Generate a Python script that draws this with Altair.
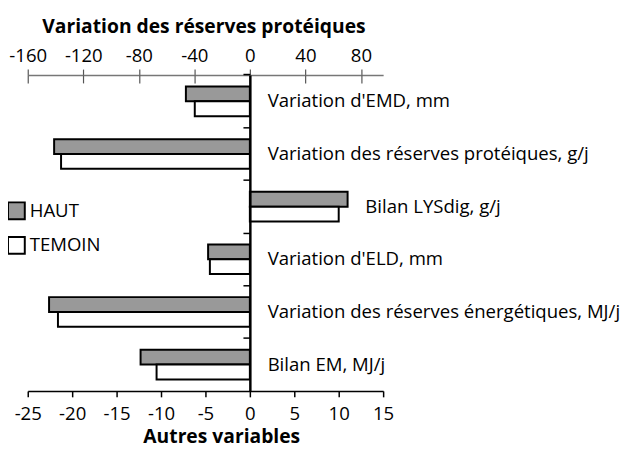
import altair as alt
import pandas as pd

categories = [
    "Variation d'EMD, mm",
    "Variation des réserves protéiques, g/j",
    "Bilan LYSdig, g/j",
    "Variation d'ELD, mm",
    "Variation des réserves énergétiques, MJ/j",
    "Bilan EM, MJ/j",
]
series = ["HAUT", "TEMOIN"]
haut = [-7.2, -141.0, 11.0, -4.7, -22.6, -12.3]
temoin = [-6.2, -136.0, 10.0, -4.5, -21.6, -10.5]
top_ticks = [-160, -120, -80, -40, 0, 40, 80]
bottom_ticks = [-25, -20, -15, -10, -5, 0, 5, 10, 15]
protein_cat = "Variation des réserves protéiques, g/j"

rows = []
for c, h, t in zip(categories, haut, temoin):
    rows.append({"cat": c, "serie": "HAUT", "value": h})
    rows.append({"cat": c, "serie": "TEMOIN", "value": t})
df = pd.DataFrame(rows)
df_prot = df[df["cat"] == protein_cat]
df_other = df[df["cat"] != protein_cat]

lab = pd.DataFrame({
    "cat": categories,
    "pos": [0 if c == protein_cat else max(0, h, t) for c, h, t in zip(categories, haut, temoin)],
})

FONT = "Open Sans"
FS = 18.8
TFS = 19.5
HYPHEN = "replace(datum.label, '\u2212', '-')"

PI = 0.4375
yscale = alt.Scale(domain=categories, paddingInner=PI, paddingOuter=PI / 2)
yaxis = alt.Axis(
    orient="left", offset=-225, labels=False, title=None, domain=True,
    domainColor="black", domainWidth=2.5, ticks=True,
    bandPosition=-PI / (2 * (1 - PI)),
    tickSize=7, tickColor="black", tickWidth=1.5, grid=False, zindex=1,
)
Y = alt.Y("cat:N", sort=categories, scale=yscale, axis=yaxis)
YO = alt.YOffset("serie:N", sort=series, scale=alt.Scale(domain=series, paddingInner=0, paddingOuter=0))
color = alt.Color(
    "serie:N",
    scale=alt.Scale(domain=series, range=["#999999", "#ffffff"]),
    legend=alt.Legend(
        title=None, orient="none", legendX=-21, legendY=128, symbolType="square",
        symbolSize=289, symbolStrokeColor="black", symbolStrokeWidth=2,
        labelFont=FONT, labelFontSize=FS, labelColor="black", rowPadding=10,
        labelOffset=4, padding=0,
    ),
)

top_scale = alt.Scale(domain=[-160, 96], nice=False, zero=False)
bot_scale = alt.Scale(domain=[-25, 15], nice=False, zero=False)

prot = alt.Chart(df_prot).mark_bar(stroke="black", strokeWidth=2).encode(
    x=alt.X("value:Q", scale=top_scale, axis=alt.Axis(
        orient="top", values=top_ticks, title="Variation des réserves protéiques",
        titleFont=FONT, titleFontSize=TFS, titleFontWeight="bold", titleColor="black",
        labelFont=FONT, labelFontSize=FS, labelColor="black", labelPadding=4,
        labelOverlap=False, labelFlush=False, labelExpr=HYPHEN,
        tickSize=6, tickColor="#555555", tickWidth=1.2, domainColor="#777777",
        domainWidth=1.5, grid=False, titlePadding=10, titleX=178,
    )),
    y=Y, yOffset=YO, color=color,
)

prot_ticks = alt.Chart(df_prot).mark_bar(opacity=0).encode(
    x=alt.X("value:Q", scale=top_scale, axis=alt.Axis(
        orient="top", values=top_ticks, offset=-8, labels=False, domain=False,
        title=None, tickSize=8, tickColor="#555555", tickWidth=1.2, grid=False,
    )),
    y=Y, yOffset=YO,
)

other = alt.Chart(df_other).mark_bar(stroke="black", strokeWidth=2).encode(
    x=alt.X("value:Q", scale=bot_scale, axis=alt.Axis(
        orient="bottom", values=bottom_ticks, title="Autres variables",
        titleFont=FONT, titleFontSize=TFS, titleFontWeight="bold", titleColor="black",
        labelFont=FONT, labelFontSize=FS, labelColor="black", labelPadding=8,
        labelOverlap=False, labelFlush=False, labelExpr=HYPHEN,
        tickSize=6, tickColor="black", tickWidth=1.5, domainColor="black",
        domainWidth=1.5, grid=False, titlePadding=4, titleX=196,
    )),
    y=Y, yOffset=YO, color=alt.Color("serie:N", legend=None),
)

labels = alt.Chart(lab).mark_text(
    align="left", baseline="middle", dx=18, font=FONT, fontSize=FS, color="black"
).encode(
    x=alt.X("pos:Q", scale=bot_scale, axis=None),
    y=Y,
    text="cat:N",
)

chart = alt.layer(prot, prot_ticks, other, labels).resolve_scale(
    x="independent"
).properties(
    width=360, height=320,
    autosize=alt.AutoSizeParams(type="none"),
    padding={"left": 20, "top": 65, "right": 245, "bottom": 60},
).configure_view(stroke=None)

chart.save("out.html", embed_options={"renderer": "svg", "actions": False})
